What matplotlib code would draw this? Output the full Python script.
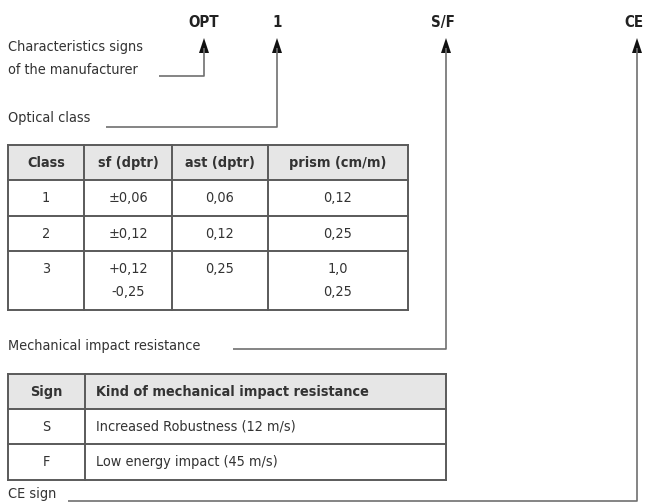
import matplotlib
matplotlib.use("Agg")
import matplotlib.pyplot as plt
from matplotlib.patches import Rectangle, Polygon

plt.rcParams["font.family"] = ["DejaVu Sans"]
plt.rcParams["font.stretch"] = "condensed"

# ── Data ─────────────────────────────────────────────────────────────────────
marks = ["OPT", "1", "S/F", "CE"]
mark_labels = [["Characteristics signs", "of the manufacturer"],
               ["Optical class"],
               ["Mechanical impact resistance"],
               ["CE sign"]]

class_header = ["Class", "sf (dptr)", "ast (dptr)", "prism (cm/m)"]
class_rows = [["1", "±0,06", "0,06", "0,12"],
              ["2", "±0,12", "0,12", "0,25"],
              ["3", "+0,12\n-0,25", "0,25", "1,0\n0,25"]]

sign_header = ["Sign", "Kind of mechanical impact resistance"]
sign_rows = [["S", "Increased Robustness (12 m/s)"],
             ["F", "Low energy impact (45 m/s)"]]

# ── Layout (pixel coords) ────────────────────────────────────────────────────
mark_x = [204, 277, 446, 637]
mark_tx = [204, 277, 443, 634]
mark_y = 22
arrow_top = 38
bend_y = [76, 127, 349, 501]
line_start = [159, 106, 233, 68]
label_y = [[47, 70], [118], [346], [494]]

t1_cols = [8, 84, 172, 268, 408]
t1_rows = [145, 180, 216, 251, 310]
t2_cols = [8, 85, 446]
t2_rows = [374, 409, 444, 480]

TXT = "#333333"
LINE = "#6f6f6f"
GRID = "#5a5a5a"
HEAD = "#e6e6e6"
FS = 10.4

fig = plt.figure(figsize=(6.45, 5.03), dpi=100)
ax = fig.add_axes([0, 0, 1, 1])
ax.set_xlim(0, 645)
ax.set_ylim(503, 0)
ax.axis("off")

# marks, arrows and labels
for i, m in enumerate(marks):
    x = mark_x[i]
    ax.text(mark_tx[i], mark_y, m, ha="center", va="center", fontsize=FS + 0.4,
            fontweight="bold", color="#222222")
    ax.plot([line_start[i], x, x], [bend_y[i], bend_y[i], arrow_top + 10],
            color=LINE, lw=1.2, solid_capstyle="butt")
    ax.add_patch(Polygon([[x - 5, arrow_top + 15], [x + 5, arrow_top + 15],
                          [x, arrow_top]], closed=True, color="#111111", lw=0))
    for txt, y in zip(mark_labels[i], label_y[i]):
        ax.text(8, y, txt, ha="left", va="center", fontsize=FS, color=TXT)


def draw_table(cols, rows, header, body, left_align=()):
    ax.add_patch(Rectangle((cols[0], rows[0]), cols[-1] - cols[0],
                           rows[1] - rows[0], facecolor=HEAD, edgecolor="none"))
    for y in rows:
        ax.plot([cols[0], cols[-1]], [y, y], color=GRID, lw=1.4)
    for x in cols:
        ax.plot([x, x], [rows[0], rows[-1]], color=GRID, lw=1.4)
    for r, row in enumerate([header] + body):
        top = rows[r]
        for c, cell in enumerate(row):
            if c in left_align:
                x, ha = cols[c] + 11, "left"
            else:
                x, ha = (cols[c] + cols[c + 1]) / 2, "center"
            for k, line in enumerate(cell.split("\n")):
                ax.text(x, top + 18 + 23 * k, line, ha=ha, va="center",
                        fontsize=FS, color=TXT,
                        fontweight="bold" if r == 0 else "normal")


draw_table(t1_cols, t1_rows, class_header, class_rows)
draw_table(t2_cols, t2_rows, sign_header, sign_rows, left_align=(1,))

fig.savefig("out.png", dpi=100)
